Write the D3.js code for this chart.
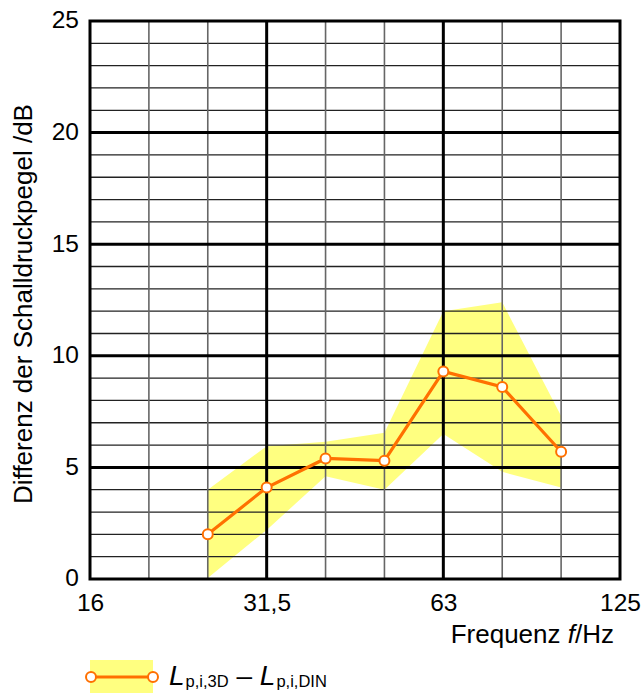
<!DOCTYPE html>
<html><head><meta charset="utf-8">
<script src="https://cdn.jsdelivr.net/npm/d3@7"></script>
<style>body{margin:0;background:#fff;font-family:"Liberation Sans",Arial,sans-serif}</style>
</head><body>
<svg id="c" width="644" height="693"></svg>
<script>
const bands = ["16","20","25","31,5","40","50","63","80","100","125"];
const labeledBands = ["16","31,5","63","125"];
const majorBands = ["31,5","63"];
const dataBands = ["25","31,5","40","50","63","80","100"];
const diffValues = [2.0, 4.1, 5.4, 5.3, 9.3, 8.6, 5.7];
const upperValues = [4.0, 5.95, 6.15, 6.55, 12.0, 12.4, 7.3];
const lowerValues = [0.05, 2.2, 4.6, 4.0, 6.5, 4.8, 4.1];
const yTicks = [0, 5, 10, 15, 20, 25];

const FONT = "Liberation Sans, Arial, sans-serif";
const svg = d3.select("#c");
const L = 90, R = 620, T = 21, B = 579;
const x = d3.scalePoint().domain(bands).range([L, R]).padding(0);
const y = d3.scaleLinear().domain([0, 25]).range([B, T]);

// band
const bandData = dataBands.map((b, i) => ({b, lo: lowerValues[i], hi: upperValues[i]}));
svg.append("path").datum(bandData)
  .attr("d", d3.area().x(d => x(d.b)).y0(d => y(d.lo)).y1(d => y(d.hi)))
  .attr("fill", "#ffff80");

// minor horizontal grid
const g = svg.append("g");
d3.range(1, 25).filter(v => v % 5 !== 0).forEach(v => {
  g.append("line").attr("x1", L).attr("x2", R).attr("y1", y(v)).attr("y2", y(v))
    .attr("stroke", "#222").attr("stroke-width", 1.3);
});
// minor vertical grid
bands.slice(1, -1).filter(b => !majorBands.includes(b)).forEach(b => {
  g.append("line").attr("x1", x(b)).attr("x2", x(b)).attr("y1", T).attr("y2", B)
    .attr("stroke", "#666").attr("stroke-width", 1.6);
});
// major horizontal
yTicks.slice(1, -1).forEach(v => {
  g.append("line").attr("x1", L).attr("x2", R).attr("y1", y(v)).attr("y2", y(v))
    .attr("stroke", "#000").attr("stroke-width", 3);
});
majorBands.forEach(b => {
  g.append("line").attr("x1", x(b)).attr("x2", x(b)).attr("y1", T).attr("y2", B)
    .attr("stroke", "#000").attr("stroke-width", 3);
});
// frame
svg.append("rect").attr("x", L).attr("y", T).attr("width", R - L).attr("height", B - T)
  .attr("fill", "none").attr("stroke", "#000").attr("stroke-width", 3);

// axes
const yAxis = svg.append("g").attr("transform", `translate(${L},0)`)
  .call(d3.axisLeft(y).tickValues(yTicks).tickSize(0).tickPadding(11));
yAxis.select(".domain").remove();
yAxis.selectAll("text").attr("font-size", 24.5).attr("fill", "#000")
  .attr("font-family", FONT).attr("dy", "0.28em");

const xAxis = svg.append("g").attr("transform", `translate(0,${B})`)
  .call(d3.axisBottom(x).tickValues(labeledBands).tickSize(0).tickPadding(15));
xAxis.select(".domain").remove();
xAxis.selectAll("text").attr("font-size", 24.5).attr("fill", "#000")
  .attr("font-family", FONT);

// titles
const xt = svg.append("text").attr("x", 614).attr("y", 643).attr("text-anchor", "end")
  .attr("font-size", 26).attr("fill", "#000").attr("font-family", FONT);
xt.append("tspan").text("Frequenz ");
xt.append("tspan").attr("font-style", "italic").text("f");
xt.append("tspan").text("/Hz");

svg.append("text").attr("transform", `translate(32,304) rotate(-90)`)
  .attr("text-anchor", "middle").attr("font-size", 26).attr("fill", "#000")
  .attr("font-family", FONT)
  .text("Differenz der Schalldruckpegel /dB");

// line and markers
const orange = "#ff7000";
const pts = dataBands.map((b, i) => ({b, v: diffValues[i]}));
svg.append("path").datum(pts)
  .attr("d", d3.line().x(d => x(d.b)).y(d => y(d.v)))
  .attr("fill", "none").attr("stroke", orange).attr("stroke-width", 3.2);
svg.selectAll("circle.m").data(pts).enter().append("circle")
  .attr("cx", d => x(d.b)).attr("cy", d => y(d.v)).attr("r", 5)
  .attr("fill", "#fff").attr("stroke", orange).attr("stroke-width", 2);

// legend
const lg = svg.append("g");
lg.append("rect").attr("x", 90).attr("y", 660).attr("width", 63).attr("height", 33).attr("fill", "#ffff80");
lg.append("line").attr("x1", 91).attr("x2", 153).attr("y1", 677).attr("y2", 677)
  .attr("stroke", orange).attr("stroke-width", 3.2);
[91, 153].forEach(cx => lg.append("circle").attr("cx", cx).attr("cy", 677).attr("r", 5)
  .attr("fill", "#fff").attr("stroke", orange).attr("stroke-width", 2));
const lt = lg.append("text").attr("x", 169).attr("y", 685).attr("font-size", 28)
  .attr("fill", "#000").attr("font-family", FONT);
lt.append("tspan").attr("font-style", "italic").text("L");
lt.append("tspan").attr("font-size", 16.5).attr("dy", 2).attr("dx", 1).text("p,i,3D");
lt.append("tspan").attr("dy", -2).text(" \u2013 ");
lt.append("tspan").attr("font-style", "italic").text("L");
lt.append("tspan").attr("font-size", 16.5).attr("dy", 2).attr("dx", 1).text("p,i,DIN");
</script>
</body></html>
